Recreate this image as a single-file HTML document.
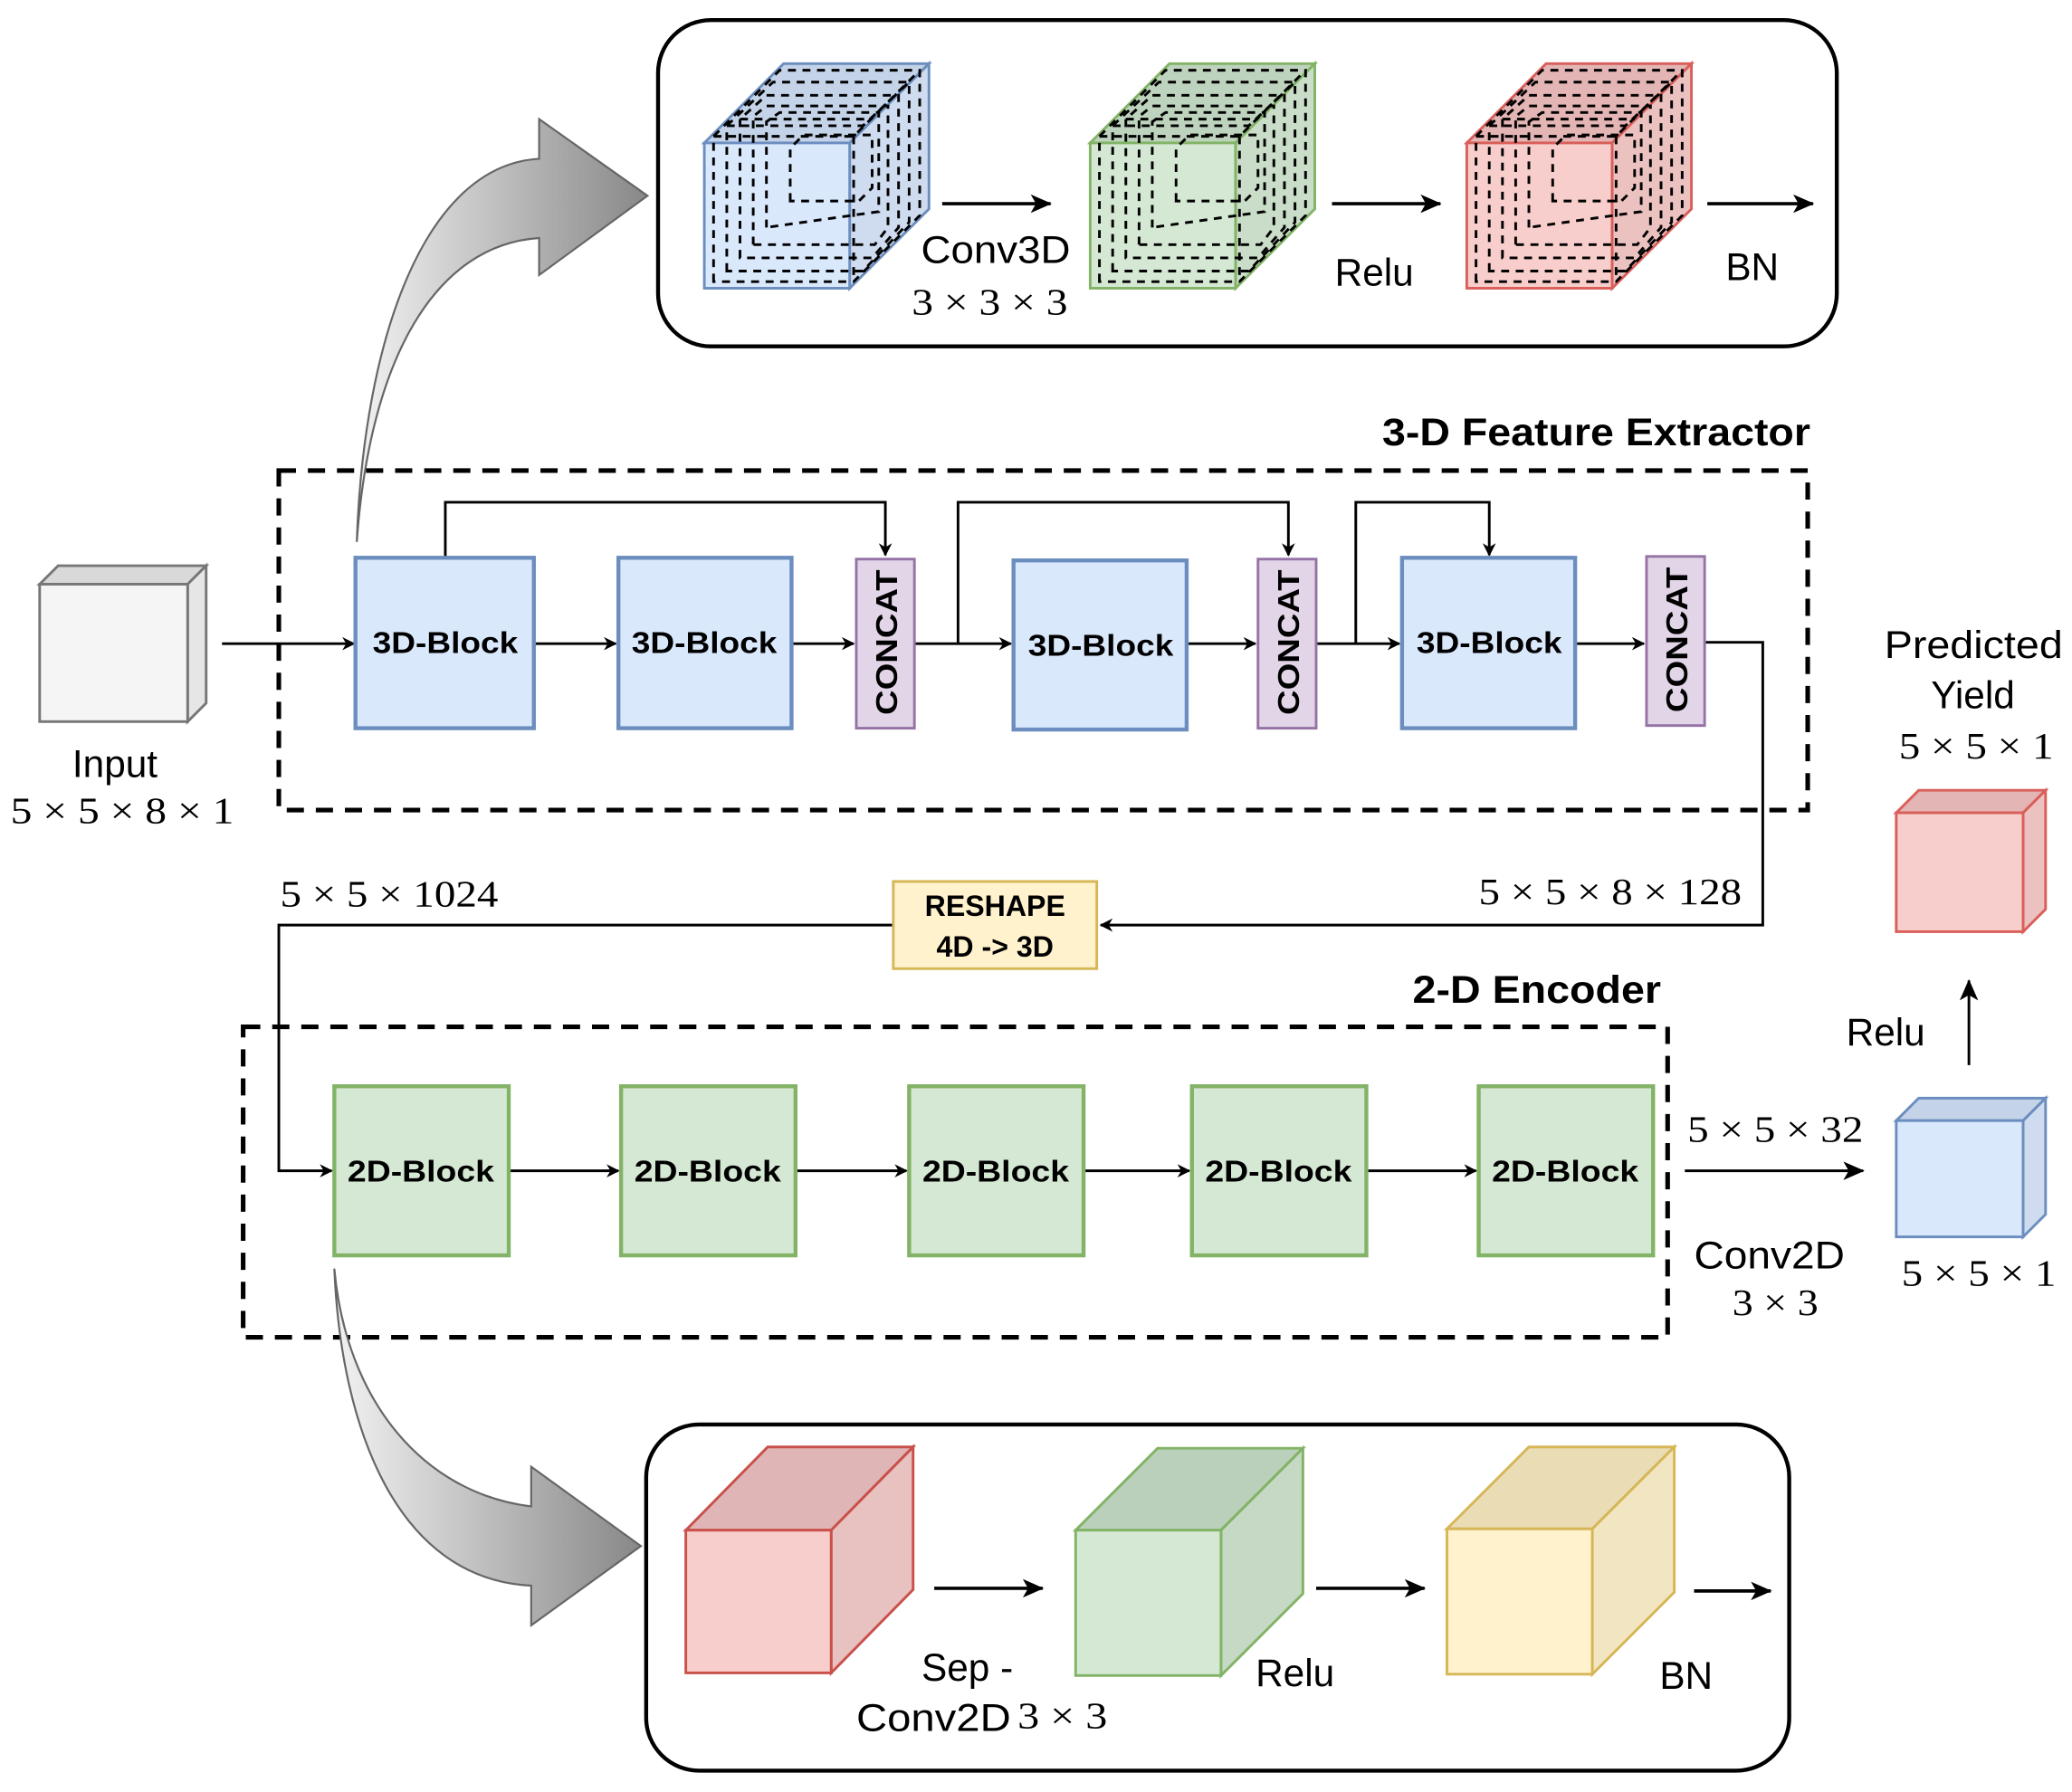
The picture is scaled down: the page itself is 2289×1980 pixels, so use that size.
<!DOCTYPE html>
<html><head><meta charset="utf-8"><style>
html,body{margin:0;padding:0;background:#fff}
svg{display:block}
text{font-family:"Liberation Sans",sans-serif;fill:#000}
.s{font-family:"Liberation Serif",serif}
.b{font-weight:bold}
</style></head><body>
<svg width="2289" height="1980" viewBox="0 0 1568 1356" xmlns="http://www.w3.org/2000/svg">
<defs>
<marker id="a" markerWidth="10" markerHeight="10" refX="9" refY="5" orient="auto" markerUnits="userSpaceOnUse"><path d="M0,0 L10,5 L0,10 L3,5 Z" fill="#000"/></marker>
<marker id="a2" markerWidth="16" markerHeight="14" refX="15" refY="7" orient="auto" markerUnits="userSpaceOnUse"><path d="M0,0 L16,7 L0,14 L4,7 Z" fill="#000"/></marker>
<linearGradient id="g" x1="0" x2="1" y1="0" y2="0"><stop offset="0" stop-color="#f2f2f2"/><stop offset="1" stop-color="#888"/></linearGradient>
</defs>

<rect x="498" y="15" width="892" height="247" rx="40" fill="none" stroke="#000" stroke-width="3"/>
<g stroke-width="2">
 <polygon points="533,108 593,48 703,48 643,108" fill="#c4d3e8" stroke="#6c8ebf"/>
 <polygon points="643,108 703,48 703,158 643,218" fill="#cfdcef" stroke="#6c8ebf"/>
 <rect x="533" y="108" width="110" height="110" fill="#dae8fc" stroke="#6c8ebf"/>
 <polygon points="825,108 885,48 995,48 935,108" fill="#bed3bd" stroke="#82b366"/>
 <polygon points="935,108 995,48 995,158 935,218" fill="#c9ddc8" stroke="#82b366"/>
 <rect x="825" y="108" width="110" height="110" fill="#d5e8d4" stroke="#82b366"/>
 <polygon points="1110,108 1170,48 1280,48 1220,108" fill="#e3b5b4" stroke="#d95f5a"/>
 <polygon points="1220,108 1280,48 1280,158 1220,218" fill="#ecc2c1" stroke="#d95f5a"/>
 <rect x="1110" y="108" width="110" height="110" fill="#f8cecc" stroke="#d95f5a"/>
</g>
<g fill="none" stroke="#000" stroke-width="2" stroke-dasharray="6 5">
 <g id="nest">
  <path d="M540,213 L540,103 L590,53 L696,53 L696,163 L646,213 Z M540,103 L646,103 L696,53 M646,103 L646,213"/>
  <path d="M550,205 L550,95 L585,62 L688,62 L688,168 L653,205 Z M550,95 L653,95 L688,62"/>
  <path d="M560,195 L560,90 L580,72 L680,72 L680,172 L660,195 Z M560,90 L660,90"/>
  <path d="M570,185 L570,88 L580,80 L672,80 L672,172 L662,185 Z"/>
  <path d="M580,172 L580,92 L590,85 L665,85 L665,160 Z"/>
  <path d="M598,152 L598,112 L608,102 L660,102 L660,142 L650,152 Z"/>
 </g>
 <use href="#nest" transform="translate(292,0)"/>
 <use href="#nest" transform="translate(577,0)"/>
</g>
<line x1="713" y1="154" x2="795" y2="154" stroke="#000" stroke-width="2.5" marker-end="url(#a2)"/>
<line x1="1008" y1="154" x2="1090" y2="154" stroke="#000" stroke-width="2.5" marker-end="url(#a2)"/>
<line x1="1292" y1="154" x2="1372" y2="154" stroke="#000" stroke-width="2.5" marker-end="url(#a2)"/>
<text x="697" y="199" font-size="29" textLength="113" lengthAdjust="spacingAndGlyphs">Conv3D</text>
<text x="690" y="238" font-size="28" class="s" textLength="118" lengthAdjust="spacingAndGlyphs">3 × 3 × 3</text>
<text x="1040" y="216" font-size="29" text-anchor="middle">Relu</text>
<text x="1326" y="212" font-size="29" text-anchor="middle">BN</text>

<path d="M270,410 C275,260 320,125 408,120 L408,90 L490,148 L408,208 L408,180 C330,185 280,270 270,410 Z" fill="url(#g)" stroke="#666" stroke-width="1.5"/>

<text x="1046" y="337" font-size="29" class="b" textLength="324" lengthAdjust="spacingAndGlyphs">3-D Feature Extractor</text>
<rect x="211" y="356" width="1157" height="257" fill="none" stroke="#000" stroke-width="3.5" stroke-dasharray="13 9"/>

<polygon points="30,442 44,428 156,428 142,442" fill="#d9d9d9" stroke="#777" stroke-width="2"/>
<polygon points="142,442 156,428 156,532 142,546" fill="#e6e6e6" stroke="#777" stroke-width="2"/>
<rect x="30" y="442" width="112" height="104" fill="#f5f5f5" stroke="#777" stroke-width="2"/>
<text x="87" y="588" font-size="29" text-anchor="middle">Input</text>
<text x="8" y="623" font-size="28" class="s" textLength="169" lengthAdjust="spacingAndGlyphs">5 × 5 × 8 × 1</text>

<g stroke="#000" stroke-width="2" fill="none">
 <line x1="168" y1="487" x2="268" y2="487" marker-end="url(#a)"/>
 <line x1="404" y1="487" x2="466" y2="487" marker-end="url(#a)"/>
 <line x1="599" y1="487" x2="646" y2="487" marker-end="url(#a)"/>
 <line x1="692" y1="487" x2="765" y2="487" marker-end="url(#a)"/>
 <line x1="898" y1="487" x2="950" y2="487" marker-end="url(#a)"/>
 <line x1="996" y1="487" x2="1059" y2="487" marker-end="url(#a)"/>
 <line x1="1192" y1="487" x2="1244" y2="487" marker-end="url(#a)"/>
 <polyline points="337,422 337,380 670,380 670,420" marker-end="url(#a)"/>
 <polyline points="725,487 725,380 975,380 975,420" marker-end="url(#a)"/>
 <polyline points="1026,487 1026,380 1127,380 1127,420" marker-end="url(#a)"/>
 <polyline points="1290,486 1334,486 1334,700 833,700" marker-end="url(#a)"/>
 <polyline points="676,700 211,700 211,886 251,886" marker-end="url(#a)"/>
</g>

<g stroke="#6c8ebf" stroke-width="3" fill="#dae8fc">
 <rect x="269" y="422" width="135" height="129"/>
 <rect x="468" y="422" width="131" height="129"/>
 <rect x="767" y="424" width="131" height="128"/>
 <rect x="1061" y="422" width="131" height="129"/>
</g>
<g font-size="23" class="b">
 <text x="282" y="494" class="b" textLength="110" lengthAdjust="spacingAndGlyphs">3D-Block</text>
 <text x="478" y="494" class="b" textLength="110" lengthAdjust="spacingAndGlyphs">3D-Block</text>
 <text x="778" y="496" class="b" textLength="110" lengthAdjust="spacingAndGlyphs">3D-Block</text>
 <text x="1072" y="494" class="b" textLength="110" lengthAdjust="spacingAndGlyphs">3D-Block</text>
</g>
<g stroke="#9673a6" stroke-width="2" fill="#e1d5e7">
 <rect x="648" y="423" width="44" height="128"/>
 <rect x="952" y="423" width="44" height="128"/>
 <rect x="1246" y="421" width="44" height="128"/>
</g>
<g font-size="23" class="b">
 <text transform="translate(679,541) rotate(-90)" class="b" textLength="110" lengthAdjust="spacingAndGlyphs">CONCAT</text>
 <text transform="translate(983,541) rotate(-90)" class="b" textLength="110" lengthAdjust="spacingAndGlyphs">CONCAT</text>
 <text transform="translate(1277,539) rotate(-90)" class="b" textLength="110" lengthAdjust="spacingAndGlyphs">CONCAT</text>
</g>

<rect x="676" y="667" width="154" height="66" fill="#fff2cc" stroke="#d6b656" stroke-width="2"/>
<text x="753" y="693" font-size="22" class="b" text-anchor="middle">RESHAPE</text>
<text x="753" y="724" font-size="22" class="b" text-anchor="middle">4D -&gt; 3D</text>
<text x="1119" y="684" font-size="28" class="s" textLength="199" lengthAdjust="spacingAndGlyphs">5 × 5 × 8 × 128</text>
<text x="212" y="686" font-size="28" class="s" textLength="165" lengthAdjust="spacingAndGlyphs">5 × 5 × 1024</text>

<text x="1069" y="759" font-size="29" class="b" textLength="188" lengthAdjust="spacingAndGlyphs">2-D Encoder</text>
<rect x="184" y="777" width="1078" height="235" fill="none" stroke="#000" stroke-width="3.5" stroke-dasharray="13 9"/>

<g stroke="#000" stroke-width="2">
 <line x1="385" y1="886" x2="468" y2="886" marker-end="url(#a)"/>
 <line x1="602" y1="886" x2="686" y2="886" marker-end="url(#a)"/>
 <line x1="820" y1="886" x2="900" y2="886" marker-end="url(#a)"/>
 <line x1="1034" y1="886" x2="1117" y2="886" marker-end="url(#a)"/>
 <line x1="1275" y1="886" x2="1410" y2="886" marker-end="url(#a2)"/>
 <line x1="1490" y1="806" x2="1490" y2="742" marker-end="url(#a2)"/>
</g>
<g stroke="#82b366" stroke-width="3" fill="#d5e8d4">
 <rect x="253" y="822" width="132" height="128"/>
 <rect x="470" y="822" width="132" height="128"/>
 <rect x="688" y="822" width="132" height="128"/>
 <rect x="902" y="822" width="132" height="128"/>
 <rect x="1119" y="822" width="132" height="128"/>
</g>
<g font-size="23" class="b">
 <text x="263" y="894" class="b" textLength="111" lengthAdjust="spacingAndGlyphs">2D-Block</text>
 <text x="480" y="894" class="b" textLength="111" lengthAdjust="spacingAndGlyphs">2D-Block</text>
 <text x="698" y="894" class="b" textLength="111" lengthAdjust="spacingAndGlyphs">2D-Block</text>
 <text x="912" y="894" class="b" textLength="111" lengthAdjust="spacingAndGlyphs">2D-Block</text>
 <text x="1129" y="894" class="b" textLength="111" lengthAdjust="spacingAndGlyphs">2D-Block</text>
</g>
<text x="1277" y="864" font-size="28" class="s" textLength="133" lengthAdjust="spacingAndGlyphs">5 × 5 × 32</text>
<text x="1282" y="960" font-size="29" textLength="114" lengthAdjust="spacingAndGlyphs">Conv2D</text>
<text x="1311" y="995" font-size="28" class="s" textLength="65" lengthAdjust="spacingAndGlyphs">3 × 3</text>

<polygon points="1435,848 1452,831 1548,831 1531,848" fill="#c4d3e8" stroke="#6c8ebf" stroke-width="2"/>
<polygon points="1531,848 1548,831 1548,919 1531,936" fill="#cfdcef" stroke="#6c8ebf" stroke-width="2"/>
<rect x="1435" y="848" width="96" height="88" fill="#dae8fc" stroke="#6c8ebf" stroke-width="2"/>
<text x="1439" y="973" font-size="28" class="s" textLength="117" lengthAdjust="spacingAndGlyphs">5 × 5 × 1</text>
<text x="1427" y="791" font-size="29" text-anchor="middle">Relu</text>
<polygon points="1435,615 1452,598 1548,598 1531,615" fill="#e3b5b4" stroke="#d95f5a" stroke-width="2"/>
<polygon points="1531,615 1548,598 1548,688 1531,705" fill="#ecc2c1" stroke="#d95f5a" stroke-width="2"/>
<rect x="1435" y="615" width="96" height="90" fill="#f8cecc" stroke="#d95f5a" stroke-width="2"/>
<text x="1426" y="498" font-size="29" textLength="135" lengthAdjust="spacingAndGlyphs">Predicted</text>
<text x="1493" y="536" font-size="29" text-anchor="middle">Yield</text>
<text x="1437" y="574" font-size="28" class="s" textLength="117" lengthAdjust="spacingAndGlyphs">5 × 5 × 1</text>

<path d="M253,960 C258,1080 300,1195 402,1200 L402,1230 L485,1170 L402,1110 L402,1140 C320,1130 262,1060 253,960 Z" fill="url(#g)" stroke="#666" stroke-width="1.5"/>

<rect x="489" y="1078" width="865" height="262" rx="40" fill="none" stroke="#000" stroke-width="3"/>
<g stroke-width="2">
 <polygon points="519,1158 581,1095 691,1095 629,1158" fill="#dfb6b5" stroke="#c9504b"/>
 <polygon points="629,1158 691,1095 691,1203 629,1266" fill="#e8c2c1" stroke="#c9504b"/>
 <rect x="519" y="1158" width="110" height="108" fill="#f8cecc" stroke="#c9504b"/>
 <polygon points="814,1158 876,1096 986,1096 924,1158" fill="#bbd0ba" stroke="#82b366"/>
 <polygon points="924,1158 986,1096 986,1206 924,1268" fill="#c6d9c5" stroke="#82b366"/>
 <rect x="814" y="1158" width="110" height="110" fill="#d5e8d4" stroke="#82b366"/>
 <polygon points="1095,1157 1157,1095 1267,1095 1205,1157" fill="#eadcb5" stroke="#d6b656"/>
 <polygon points="1205,1157 1267,1095 1267,1205 1205,1267" fill="#f2e6c2" stroke="#d6b656"/>
 <rect x="1095" y="1157" width="110" height="110" fill="#fff2cc" stroke="#d6b656"/>
</g>
<line x1="707" y1="1202" x2="789" y2="1202" stroke="#000" stroke-width="2.5" marker-end="url(#a2)"/>
<line x1="996" y1="1202" x2="1078" y2="1202" stroke="#000" stroke-width="2.5" marker-end="url(#a2)"/>
<line x1="1282" y1="1204" x2="1340" y2="1204" stroke="#000" stroke-width="2.5" marker-end="url(#a2)"/>
<text x="732" y="1272" font-size="29" text-anchor="middle">Sep -</text>
<text x="648" y="1310" font-size="29" textLength="117" lengthAdjust="spacingAndGlyphs">Conv2D</text>
<text x="770" y="1308" font-size="28" class="s" textLength="68" lengthAdjust="spacingAndGlyphs">3 × 3</text>
<text x="980" y="1276" font-size="29" text-anchor="middle">Relu</text>
<text x="1276" y="1278" font-size="29" text-anchor="middle">BN</text>
</svg>
</body></html>
